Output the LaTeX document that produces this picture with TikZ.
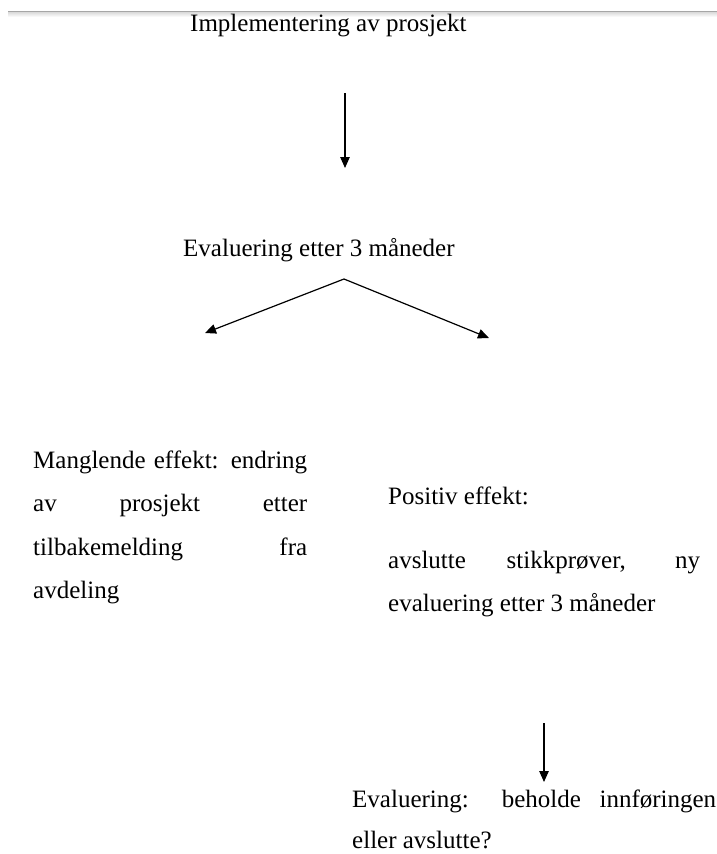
\documentclass[tikz,border=0pt]{standalone}
\usepackage{fontspec}
\setmainfont[Ligatures=TeX]{Liberation Serif}
\usetikzlibrary{positioning, arrows.meta}

\newcommand{\flowfont}{\fontsize{25}{43.5}\selectfont\tolerance=10000\hyphenpenalty=10000}
\newcommand{\firstline}{\rule{0pt}{18pt}}

\tikzset{
	flowtext/.style={inner sep=0pt, anchor=base west, font=\flowfont},
	flowpara/.style={inner sep=0pt, anchor=north west, align=justify, font=\flowfont},
	flowarrow/.style={-{Triangle[length=11pt, width=9.5pt]}, line width=1.2pt},
}

\begin{document}
\begin{tikzpicture}[x=1pt, y=-1pt]
	\useasboundingbox (0, 0) rectangle (717, 854);

	% page edge
	\shade[top color=gray!35, bottom color=white] (8, 11) rectangle (717, 17);
	\draw[gray!70, line width=1pt] (8, 11) -- (717, 11);

	% Labels
	\node[flowtext] (impl) at (190, 31) {Implementering av prosjekt};
	\node[flowtext] (eval) at (183, 256) {Evaluering etter 3 måneder};
	\node[flowpara, text width=274pt] (mangel) at (33, 450) {\firstline Manglende effekt: endring\linebreak av prosjekt etter\linebreak tilbakemelding fra\linebreak avdeling};
	\node[flowtext] (positiv) at (388, 504) {Positiv effekt:};
	\node[flowpara, text width=312pt] (avslutt) at (388, 550) {\firstline avslutte stikkprøver, ny\linebreak evaluering etter 3 måneder};
	\node[flowpara, text width=364pt, font=\fontsize{25}{41}\selectfont] (slutt) at (352, 789) {\firstline Evaluering: beholde innføringen\linebreak eller avslutte?};

	\coordinate (implend) at (345, 93);
	\coordinate (evaltop) at (345, 168);
	\coordinate (split) at (344, 279);
	\coordinate (mangeltop) at (205, 333);
	\coordinate (positivtop) at (489, 338);
	\coordinate (avsluttend) at (544, 723);
	\coordinate (slutttop) at (544, 782);

	\draw[flowarrow] (implend) -- (evaltop);
	\draw[flowarrow] (split) -- (mangeltop);
	\draw[flowarrow] (split) -- (positivtop);
	\draw[flowarrow] (avsluttend) -- (slutttop);
\end{tikzpicture}
\end{document}
